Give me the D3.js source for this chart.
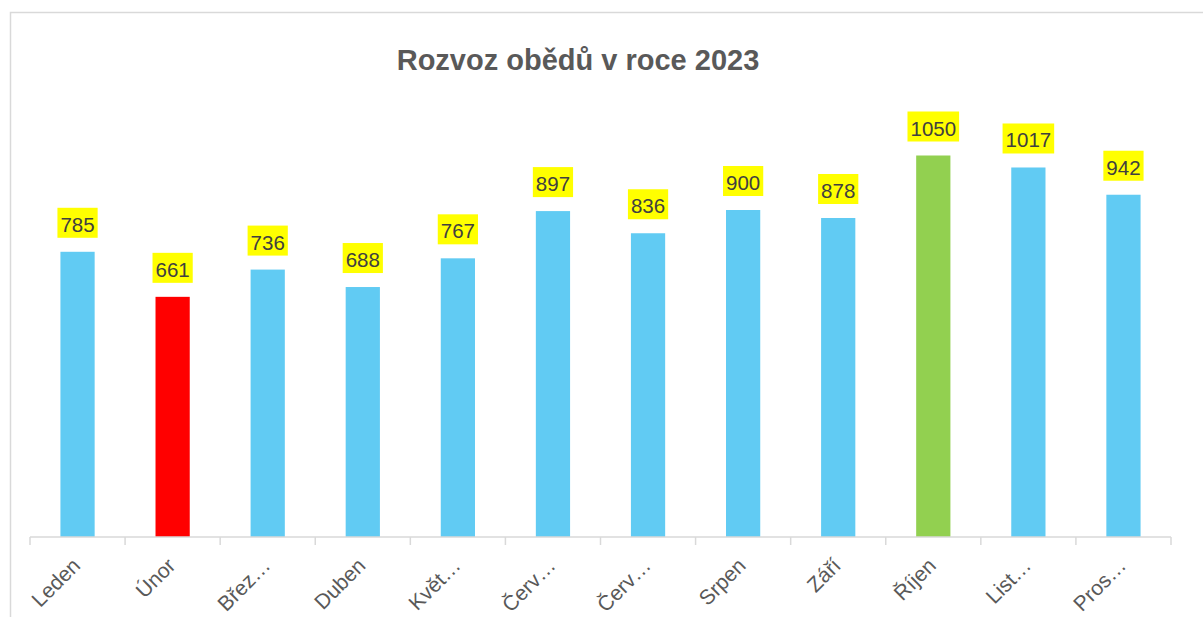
<!DOCTYPE html>
<html>
<head>
<meta charset="utf-8">
<script src="https://cdn.jsdelivr.net/npm/d3@7"></script>
<style>
  body { margin: 0; background: #fff; }
  svg { display: block; font-family: "Liberation Sans", Arial, sans-serif; }
</style>
</head>
<body>
<div class="chart"></div>
<script>
const months = ["Leden", "Únor", "Březen", "Duben", "Květen", "Červen", "Červenec", "Srpen", "Září", "Říjen", "Listopad", "Prosinec"];
const meals = [785, 661, 736, 688, 767, 897, 836, 900, 878, 1050, 1017, 942];
const title = "Rozvoz obědů v roce 2023";

const W = 1203, H = 617;
const plot = {left: 30, right: 1171, top: 101, bottom: 537};

const svg = d3.select(".chart").append("svg")
    .attr("width", W)
    .attr("height", H);

// frame
svg.append("rect")
    .attr("x", 10.5).attr("y", 12.5)
    .attr("width", 1210).attr("height", 620)
    .attr("fill", "#fff")
    .attr("stroke", "#d9d9d9")
    .attr("stroke-width", 1.5);

svg.append("text")
    .attr("x", 578).attr("y", 70)
    .attr("text-anchor", "middle")
    .attr("font-size", 29)
    .attr("font-weight", "bold")
    .attr("fill", "#595959")
    .text(title);

const xScale = d3.scaleBand()
    .domain(months)
    .range([plot.left, plot.right]);

const yScale = d3.scaleLinear()
    .domain([0, 1200])
    .range([plot.bottom, plot.top]);

const bw = xScale.bandwidth() * 0.36;

// min red, max green, rest blue
const minV = d3.min(meals), maxV = d3.max(meals);
const color = v => v === minV ? "#ff0000" : v === maxV ? "#92d050" : "#61cbf3";

const data = months.map((m, i) => ({month: m, value: meals[i]}));

svg.append("g").selectAll("rect")
    .data(data)
    .join("rect")
    .attr("x", d => xScale(d.month) + (xScale.bandwidth() - bw) / 2)
    .attr("y", d => yScale(d.value))
    .attr("width", bw)
    .attr("height", d => yScale(0) - yScale(d.value))
    .attr("fill", d => color(d.value));

// axis line + ticks at category boundaries
const axis = svg.append("g").attr("stroke", "#d9d9d9").attr("stroke-width", 1.5);
axis.append("line")
    .attr("x1", plot.left).attr("x2", plot.right)
    .attr("y1", plot.bottom).attr("y2", plot.bottom);
axis.selectAll(".tick")
    .data(months.concat([null]))
    .join("line")
    .attr("x1", (d, i) => plot.left + i * xScale.step())
    .attr("x2", (d, i) => plot.left + i * xScale.step())
    .attr("y1", plot.bottom)
    .attr("y2", plot.bottom + 8);

// category labels, truncated like the original
const shortName = s => s.length > 5 ? s.slice(0, 4) + "…" : s;
svg.append("g").selectAll("text")
    .data(months)
    .join("text")
    .attr("transform", d => `translate(${xScale(d) + xScale.bandwidth() / 2 + 4},${plot.bottom + 30}) rotate(-45)`)
    .attr("text-anchor", "end")
    .attr("font-size", 21)
    .attr("fill", "#595959")
    .text(d => shortName(d));

// value labels with yellow box
const lab = svg.append("g").selectAll("g")
    .data(data)
    .join("g")
    .attr("transform", d => `translate(${xScale(d.month) + xScale.bandwidth() / 2},${yScale(d.value) - 14})`);

lab.append("text")
    .attr("y", -6)
    .attr("text-anchor", "middle")
    .attr("font-size", 20.5)
    .attr("fill", "#404040")
    .text(d => d.value)
    .each(function() {
        const b = this.getBBox();
        d3.select(this.parentNode).insert("rect", "text")
            .attr("x", b.x - 3)
            .attr("y", -30)
            .attr("width", b.width + 6)
            .attr("height", 30)
            .attr("fill", "#ffff00");
    });
</script>
</body>
</html>
